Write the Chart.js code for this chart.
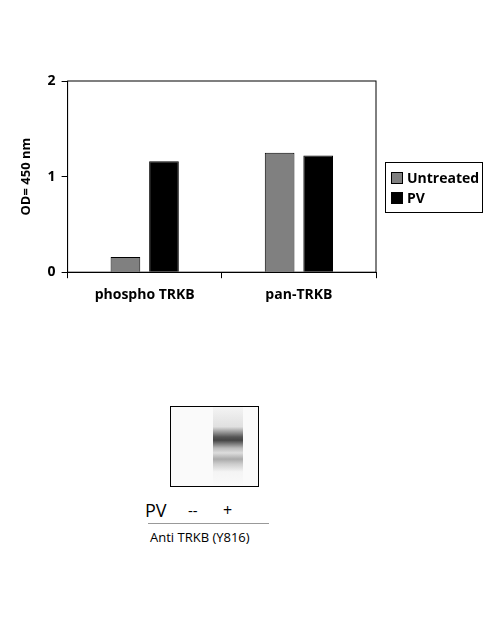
<!DOCTYPE html>
<html>
<head>
<meta charset="utf-8">
<script src="https://cdn.jsdelivr.net/npm/chart.js@4"></script>
<style>
	body { margin: 0; background: #fff; font-family: "Open Sans", Calibri, sans-serif; }
	#wrap { position: absolute; left: 0; top: 60px; width: 491px; height: 260px; }
	#legend { position: absolute; left: 385px; top: 162px; width: 96px; height: 49px; border: 1px solid #000; font: bold 14px "Open Sans", sans-serif; }
	#legend div { position: absolute; left: 5px; }
	#legend span { display: inline-block; width: 10px; height: 10px; border: 1px solid #000; margin-right: 4px; vertical-align: -1px; }
	#blot { position: absolute; left: 170px; top: 406px; width: 87px; height: 79px; border: 1px solid #000;
		background: #fafafa; }
	#lane { position: absolute; left: 42px; top: 0; width: 30px; height: 79px;
		background: linear-gradient(to bottom, #f4f4f4 0%, #e0e0e0 25%, #555 38%, #444 42%, #bbb 52%, #ddd 58%, #aaa 66%, #ccc 72%, #f4f4f4 82%, #fafafa 100%); }
</style>
</head>
<body>
<div id="wrap"><canvas id="chart" width="491" height="260"></canvas></div>
<div id="legend">
	<div style="top:5px"><span style="background:#808080"></span>Untreated</div>
	<div style="top:25px"><span style="background:#000"></span>PV</div>
</div>
<div id="blot"><div id="lane"></div></div>
<div style="position:absolute;left:145px;top:498px;font:18px 'Open Sans',sans-serif">PV</div>
<div style="position:absolute;left:188px;top:500px;font:15px 'Open Sans',sans-serif">--</div>
<div style="position:absolute;left:223px;top:499px;font:16px 'Open Sans',sans-serif">+</div>
<div style="position:absolute;left:148px;top:523px;width:121px;border-top:1px solid #999"></div>
<div style="position:absolute;left:150px;top:528px;font:13px 'Open Sans',sans-serif">Anti TRKB (Y816)</div>
<script>
const categories = ['phospho TRKB', 'pan-TRKB'];
const untreated = [0.16, 1.25];
const pv = [1.16, 1.22];

const boxPlugin = {
	id: 'box',
	afterDraw(chart) {
		const a = chart.chartArea;
		const ctx = chart.ctx;
		ctx.save();
		ctx.strokeStyle = '#000';
		ctx.lineWidth = 1;
		ctx.strokeRect(a.left, a.top, a.right - a.left, a.bottom - a.top);
		ctx.restore();
	}
};

new Chart(document.getElementById('chart'), {
	type: 'bar',
	data: {
		labels: categories,
		datasets: [
			{ label: 'Untreated', data: untreated, backgroundColor: '#808080', borderColor: '#000', borderWidth: 1 },
			{ label: 'PV', data: pv, backgroundColor: '#000', borderColor: '#000', borderWidth: 1 }
		]
	},
	options: {
		responsive: false,
		animation: false,
		devicePixelRatio: 1,
		layout: { padding: { top: 21, right: 115, left: 18, bottom: 9 } },
		plugins: { legend: { display: false }, tooltip: { enabled: false } },
		datasets: { bar: { categoryPercentage: 0.5, barPercentage: 0.77 } },
		scales: {
			x: {
				grid: { offset: true, drawOnChartArea: false, color: '#000', tickLength: 6 },
				border: { color: '#000' },
				ticks: { color: '#000', font: { family: 'Open Sans', weight: 'bold', size: 14 }, padding: 8 }
			},
			y: {
				min: 0, max: 2,
				grid: { drawOnChartArea: false, color: '#000', tickLength: 6 },
				border: { color: '#000' },
				ticks: { stepSize: 1, color: '#000', font: { family: 'Open Sans', weight: 'bold', size: 14 }, padding: 6 },
				title: { display: true, text: 'OD= 450 nm', color: '#000', font: { family: 'Open Sans', weight: 'bold', size: 13 }, padding: { top: 0, bottom: 8 } }
			}
		}
	},
	plugins: [boxPlugin]
});
</script>
</body>
</html>
